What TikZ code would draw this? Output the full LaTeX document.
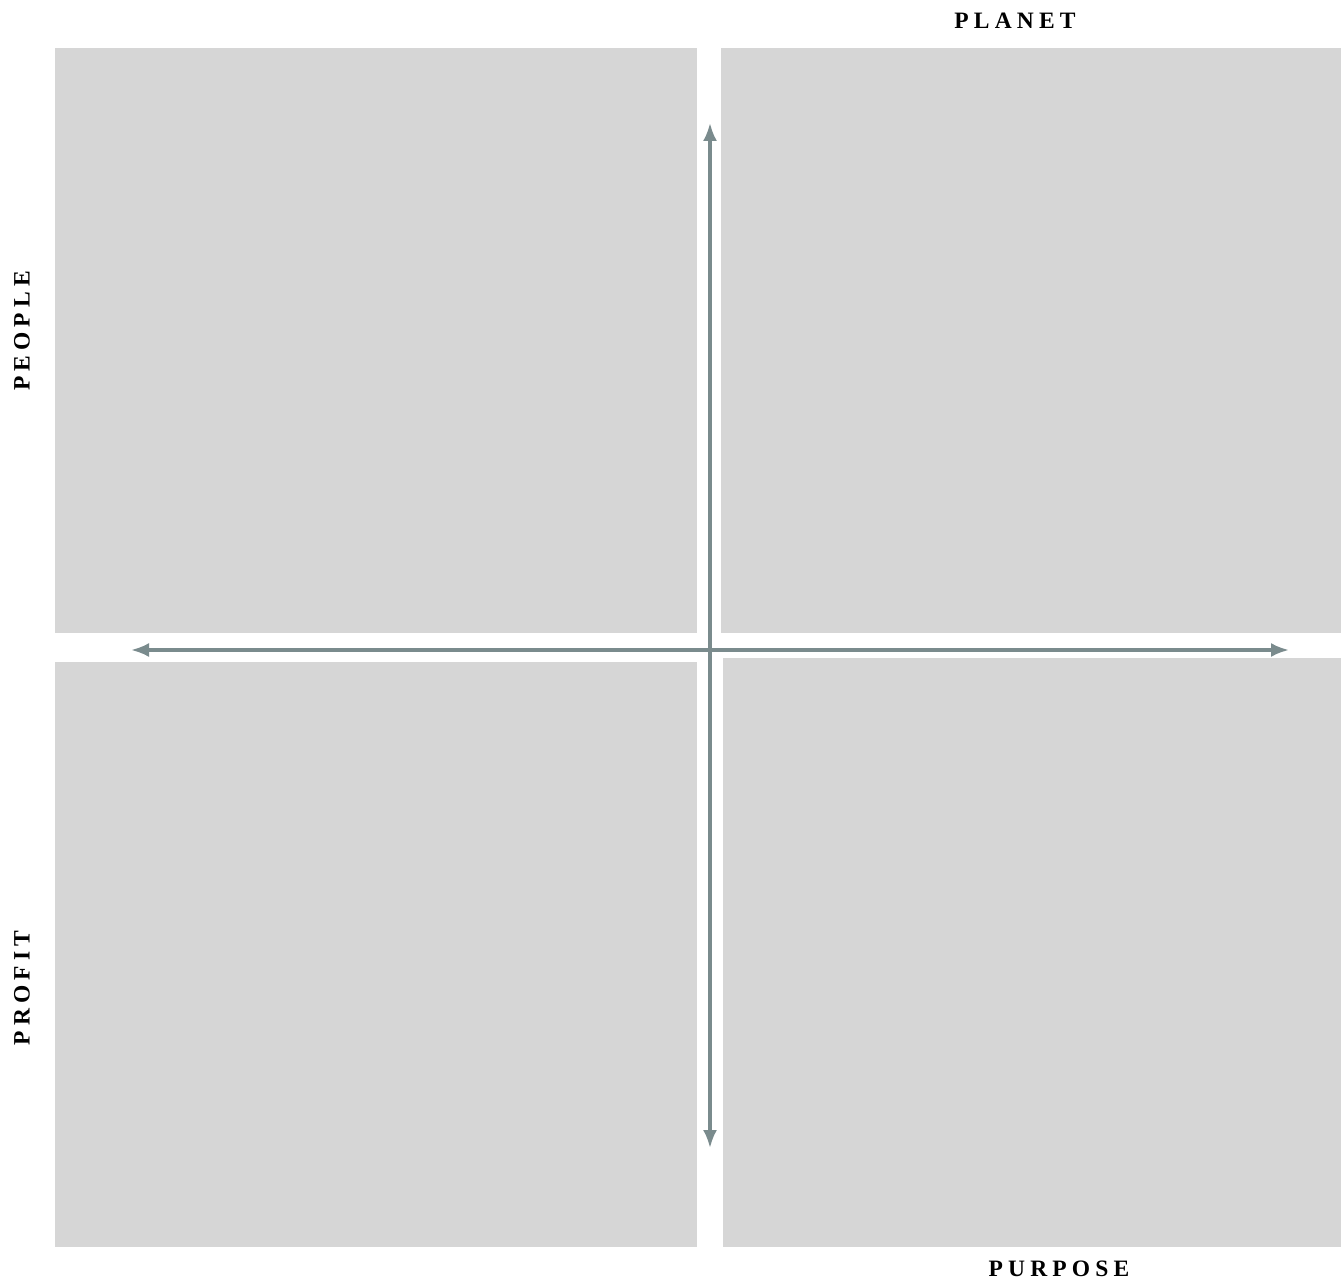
\documentclass[tikz,border=0pt]{standalone}
\usepackage{fontspec}
\setmainfont{Liberation Serif}
\newfontfamily\lblfont[LetterSpace=22]{Liberation Serif}
\usetikzlibrary{arrows.meta}
\definecolor{boxgray}{HTML}{D6D6D6}
\definecolor{axisgray}{HTML}{7A8B8D}
\begin{document}
\begin{tikzpicture}[x=1pt,y=-1pt,
  quad/.style={draw=none,fill=boxgray,inner sep=0pt,outer sep=0pt,anchor=north west},
  axis/.style={draw=axisgray,line width=3.2pt,{Latex[length=18pt,width=14pt]}-{Latex[length=18pt,width=14pt]}},
  lbl/.style={font=\lblfont\bfseries\fontsize{23.5}{26}\selectfont,inner sep=0pt}]
\useasboundingbox (0,0) rectangle (1341,1281);
\node[quad,minimum width=642pt,minimum height=585pt] (tl) at (55,48) {};
\node[quad,minimum width=620pt,minimum height=585pt] (tr) at (721,48) {};
\node[quad,minimum width=642pt,minimum height=585pt] (bl) at (55,662) {};
\node[quad,minimum width=618pt,minimum height=589pt] (br) at (723,658) {};
\coordinate (top) at (710,123);
\coordinate (bottom) at (710,1148);
\coordinate (left) at (131,650);
\coordinate (right) at (1289,650);
\draw[axis] (bottom) -- (top);
\draw[axis] (left) -- (right);
\node[lbl] (planet) at (1015,21) {PLANET};
\node[lbl] (purpose) at (1059,1269) {PURPOSE};
\node[lbl,rotate=90] (people) at (22,331) {PEOPLE};
\node[lbl,rotate=90] (profit) at (22,988) {PROFIT};
\end{tikzpicture}
\end{document}
